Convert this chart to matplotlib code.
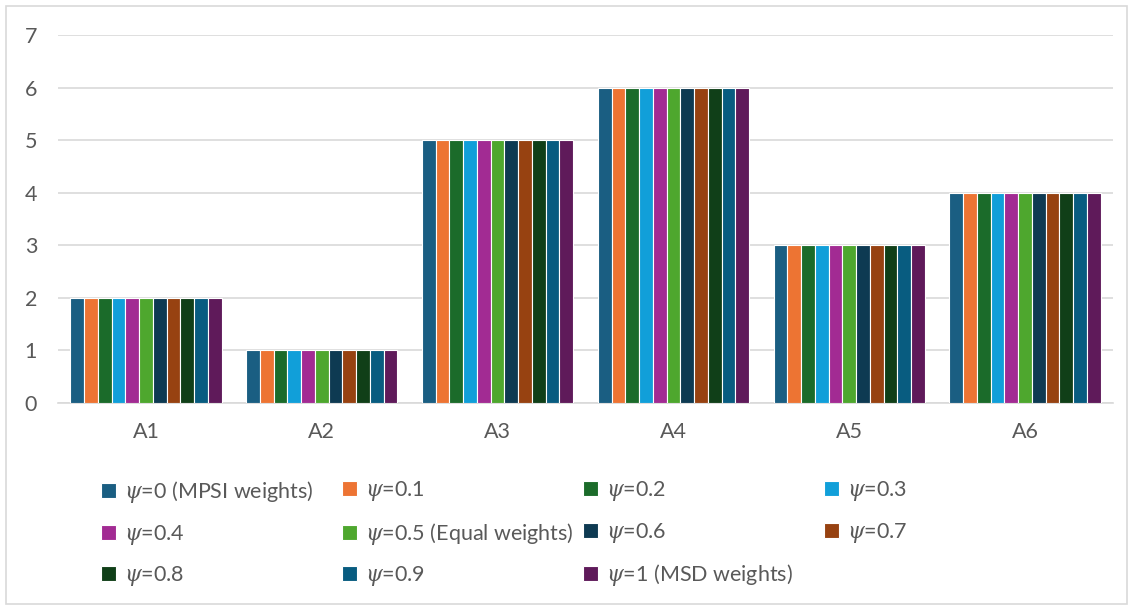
import matplotlib.pyplot as plt
import numpy as np
from matplotlib.patches import Rectangle

plt.rcParams['font.family'] = ['Lato', 'DejaVu Sans']
plt.rcParams['mathtext.fontset'] = 'dejavuserif'

categories = ['A1', 'A2', 'A3', 'A4', 'A5', 'A6']
series_names = [r'$\psi$=0 (MPSI weights)', r'$\psi$=0.1', r'$\psi$=0.2', r'$\psi$=0.3',
                r'$\psi$=0.4', r'$\psi$=0.5 (Equal weights)', r'$\psi$=0.6', r'$\psi$=0.7',
                r'$\psi$=0.8', r'$\psi$=0.9', r'$\psi$=1 (MSD weights)']
ranks = [2, 1, 5, 6, 3, 4]  # same rank for every psi
colors = ['#1a5e82', '#ed7433', '#1b6b2a', '#119fd9', '#a22b93', '#4ea72e',
          '#0e3a52', '#974211', '#103f18', '#085c80', '#5f1a5a']

text_color = '#595959'
grid_color = '#d9d9d9'
fs = 15.5

fig = plt.figure(figsize=(11.33, 6.08), dpi=100)
ax = fig.add_axes([58 / 1133, 1 - 403 / 608, (1113 - 58) / 1133, (403 - 35) / 608])

n = len(series_names)
x = np.arange(len(categories))
group = 0.86
w = group / n
handles = []
for i, (name, col) in enumerate(zip(series_names, colors)):
    b = ax.bar(x - group / 2 + w * (i + 0.5), ranks, w, color=col, label=name,
               edgecolor='white', linewidth=0.8, zorder=3)
    handles.append(b)

ax.set_xlim(-0.5, len(categories) - 0.5)
ax.set_ylim(0, 7)
ax.set_yticks(range(0, 8))
ax.set_xticks(x)
ax.set_xticklabels(categories)
ax.grid(axis='y', color=grid_color, linewidth=1.2, zorder=0)
for s in ['top', 'right', 'left']:
    ax.spines[s].set_visible(False)
ax.spines['bottom'].set_color(grid_color)
ax.spines['bottom'].set_linewidth(1.2)
ax.tick_params(axis='both', length=0, colors=text_color, labelsize=fs)
ax.tick_params(axis='y', pad=15)
ax.tick_params(axis='x', pad=14)

# legend laid out row by row, in four equal-width columns
ncol = 4
col_x = [86, 327, 568, 809]
for c in range(ncol):
    idx = list(range(c, n, ncol))
    fig.legend([handles[i] for i in idx], [series_names[i] for i in idx],
               loc='upper left', bbox_to_anchor=(col_x[c] / 1133, 1 - 464 / 608),
               frameon=False, fontsize=fs, labelcolor=text_color,
               handlelength=0.7, handleheight=0.7, handletextpad=0.35,
               labelspacing=0.82, borderpad=0.2)

fig.patches.append(Rectangle((6 / 1133, 4 / 608), 1121 / 1133, 598 / 608,
                             transform=fig.transFigure, fill=False,
                             edgecolor=grid_color, linewidth=1.2))

fig.savefig('out.png', dpi=100)
